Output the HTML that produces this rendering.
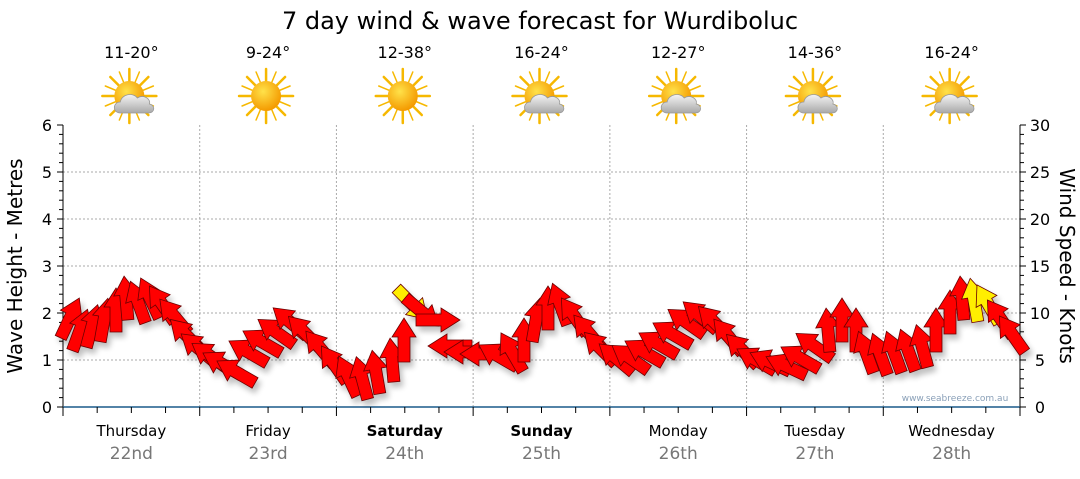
<!DOCTYPE html>
<html><head><meta charset="utf-8"><style>
body{margin:0;background:#fff;width:1080px;height:475px;overflow:hidden;font-family:"DejaVu Sans","Liberation Sans",sans-serif}
</style></head><body>
<svg id="s" width="1080" height="475" xmlns="http://www.w3.org/2000/svg" font-family="DejaVu Sans, Liberation Sans, sans-serif">
<defs>
<filter id="sh" x="-50%" y="-50%" width="200%" height="200%"><feGaussianBlur in="SourceAlpha" stdDeviation="3"/><feOffset dx="3" dy="5"/><feComponentTransfer><feFuncA type="linear" slope="0.25"/></feComponentTransfer><feMerge><feMergeNode/><feMergeNode in="SourceGraphic"/></feMerge></filter>
<radialGradient id="sun" cx="40%" cy="35%" r="65%"><stop offset="0" stop-color="#ffe24a"/><stop offset="1" stop-color="#f49a00"/></radialGradient>
<linearGradient id="cl" x1="0" y1="0" x2="0" y2="1"><stop offset="0" stop-color="#f4f4f4"/><stop offset="1" stop-color="#a9a9a9"/></linearGradient>
<g id="rays"><g stroke="#f6b800" stroke-width="2.5" stroke-linecap="round">
<line x1="0" y1="-27" x2="0" y2="27"/><line x1="-27" y1="0" x2="27" y2="0"/><line x1="-19" y1="-19" x2="19" y2="19"/><line x1="-19" y1="19" x2="19" y2="-19"/>
<line x1="-10" y1="-24" x2="10" y2="24" stroke-width="1.5"/><line x1="10" y1="-24" x2="-10" y2="24" stroke-width="1.5"/><line x1="-24" y1="-10" x2="24" y2="10" stroke-width="1.5"/><line x1="-24" y1="10" x2="24" y2="-10" stroke-width="1.5"/></g></g>
<g id="sunny"><use href="#rays"/><circle r="15" fill="url(#sun)"/></g>
<g id="pc"><use href="#rays"/><circle r="15" fill="url(#sun)"/><path d="M-9,17 C-17,17 -17,6 -9,6 C-8,-2 4,-4 8,2 C14,-2 22,3 20,8 C26,9 26,17 19,17 Z" fill="url(#cl)" stroke="#999" stroke-width="0.8"/></g>
</defs>
<text x="540" y="29" font-size="24" text-anchor="middle" fill="#000">7 day wind &amp; wave forecast for Wurdiboluc</text>
<g id="grid"></g>
<g id="arrows" filter="url(#sh)"></g>
<text x="955" y="401" font-size="9" fill="#8aa0b8" text-anchor="middle">www.seabreeze.com.au</text>
<text transform="translate(22,266) rotate(-90)" font-size="20" text-anchor="middle">Wave Height - Metres</text>
<text transform="translate(1060,266) rotate(90)" font-size="20" text-anchor="middle">Wind Speed - Knots</text>
</svg>
<script>
var S=document.getElementById('s'),G=document.getElementById('grid'),A=document.getElementById('arrows');
function el(p,t,a,txt){var e=document.createElementNS('http://www.w3.org/2000/svg',t);for(var k in a)e.setAttribute(k,a[k]);if(txt!=null)e.textContent=txt;p.appendChild(e);return e;}
var L=63,R=1020,T=125,B=407,dw=(R-L)/7;
for(var i=1;i<6;i++){var y=B-i*47;el(G,'line',{x1:L,x2:R,y1:y,y2:y,stroke:'#aaa','stroke-dasharray':'2,2'});}
for(var d=1;d<7;d++){var x=L+d*dw;el(G,'line',{x1:x,x2:x,y1:T,y2:B,stroke:'#aaa','stroke-dasharray':'2,2'});}
el(G,'line',{x1:L,x2:L,y1:T,y2:B,stroke:'#000'});
el(G,'line',{x1:R,x2:R,y1:T,y2:B,stroke:'#000'});
el(G,'line',{x1:L,x2:R,y1:B,y2:B,stroke:'#1a5a8a','stroke-width':1.5});
for(var i=0;i<=30;i++){var y=B-i*47/5;var big=i%5==0;el(G,'line',{x1:L,x2:L-(big?6:4),y1:y,y2:y,stroke:'#000'});el(G,'line',{x1:R,x2:R+(big?6:4),y1:y,y2:y,stroke:'#000'});}
for(var i=0;i<=6;i++){var y=B-i*47;el(G,'text',{x:47,y:y+6,'font-size':16,'text-anchor':'middle'},i);el(G,'text',{x:1040,y:y+6,'font-size':16,'text-anchor':'middle'},i*5);}
for(var i=0;i<=28;i++){var x=L+i*dw/4;el(G,'line',{x1:x,x2:x,y1:B,y2:B+(i%4==0?9:6),stroke:'#000'});}
var days=['Thursday','Friday','Saturday','Sunday','Monday','Tuesday','Wednesday'],dates=['22nd','23rd','24th','25th','26th','27th','28th'],temps=['11-20°','9-24°','12-38°','16-24°','12-27°','14-36°','16-24°'],ic=['pc','sunny','sunny','pc','pc','pc','pc'];
for(var d=0;d<7;d++){var cx=L+dw*(d+.5);
el(G,'text',{x:cx,y:436,'font-size':15,'text-anchor':'middle','font-weight':(d==2||d==3)?'bold':'normal'},days[d]);
el(G,'text',{x:cx,y:459,'font-size':17,'text-anchor':'middle',fill:'#777'},dates[d]);
el(G,'text',{x:cx,y:58,'font-size':16,'text-anchor':'middle'},temps[d]);
el(G,'use',{href:'#'+ic[d],transform:'translate('+(cx-2)+',96)'});}
var P=[[70,318,-65],[80,330,-70],[92,326,-75],[104,320,-80],[116,310,-90],[126,298,-95],[138,302,-110],[150,298,-115],[162,304,-125],[174,316,-130],[186,335,-135],[198,348,-140],[210,356,-145],[222,364,-150],[236,372,-150],
[248,352,-150],[262,342,-150],[276,332,-145],[290,322,-140],[304,332,-135],[320,348,-130],[334,364,-125],[348,376,-115],[362,378,-105],[376,372,-100],[392,360,-95],[404,340,-90],
[412,304,45],[422,312,40],[438,320,0],[450,346,180],[466,352,180],[482,354,180],[498,356,-150],[512,352,-120],[524,340,-90],[536,320,-80],[548,308,-90],[560,304,-110],[574,316,-125],[588,332,-130],[600,348,-135],
[616,358,-140],[630,358,-145],[644,352,-150],[658,344,-150],[672,334,-150],[686,322,-145],[700,316,-140],[714,322,-135],[728,336,-130],[742,350,-135],[756,360,-150],[770,362,-155],
[786,366,-155],[800,358,-150],[814,346,-145],[828,330,-95],[842,320,-90],[856,330,-90],[866,352,-110],[880,354,-110],[894,352,-110],[908,350,-110],[922,346,-105],[936,330,-90],[950,312,-90],[962,298,-95],[974,300,-100],[988,304,-120],[1000,318,-125],[1012,334,-125]];
var shape='-22,-6 3,-6 3,-12 22,0 3,12 3,6 -22,6';
P.forEach(function(p,i){var y=(i==27||i==68||i==69)?'#ffee00':'#ff0000';el(A,'polygon',{points:shape,fill:y,stroke:'#6a0000','stroke-width':0.8,transform:'translate('+p[0]+','+p[1]+') rotate('+p[2]+')'});});
</script>
</body></html>
